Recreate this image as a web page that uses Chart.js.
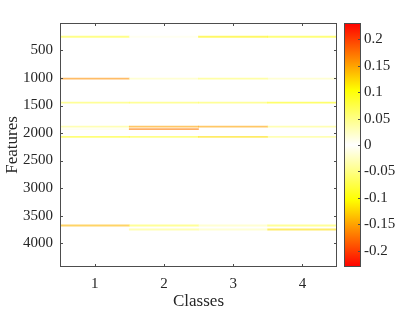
<!DOCTYPE html>
<html>
<head>
<meta charset="utf-8">
<script src="https://cdn.jsdelivr.net/npm/chart.js@4"></script>
<style>
  body { margin: 0; background: #fff; width: 415px; height: 312px; overflow: hidden; position: relative; }
  #main { position: absolute; left: 0; top: 0; }
  #cbar { position: absolute; left: 338px; top: 0; }
</style>
</head>
<body>
<canvas id="main" width="340" height="312"></canvas>
<canvas id="cbar" width="77" height="312"></canvas>
<script>
// classes on x, features on y
const classes = ['1', '2', '3', '4'];
const nFeatures = 4434;
const featureTicks = [500, 1000, 1500, 2000, 2500, 3000, 3500, 4000];

// the feature rows that carry non-zero weights, and their value per class
const rowFeatures = [240, 1000, 1436, 1872, 1918, 2059, 3670, 3743];
const rowValues = [
    [0.08, 0.01, 0.11, 0.09],
    [-0.16, 0.03, 0.06, 0.03],
    [0.07, 0.07, 0.07, 0.10],
    [-0.05, 0.15, 0.15, 0.05],
    [0.01, -0.17, 0, 0],
    [0.09, 0.08, -0.12, 0.05],
    [-0.14, 0.07, 0.03, 0.07],
    [0, 0.05, 0.03, -0.12]
];

// colour bar
const colorTicks = [0.2, 0.15, 0.1, 0.05, 0, -0.05, -0.1, -0.15, -0.2];
const cLim = 0.231;

const serif = 'Liberation Serif';
const textColor = '#262626';

// white at 0, yellow at ~0.1, red at the limits (same on both sides)
function heatColor(v, alpha = 1) {
    if (v === null) return 'rgba(0,0,0,0)';
    let t = Math.min(Math.abs(v) / cLim, 1);
    if (t <= 0.45) {
        const b = Math.round(255 * (1 - t / 0.45));
        return `rgba(255,255,${b},${alpha})`;
    }
    const g = Math.round(255 * (1 - (t - 0.45) / 0.55));
    return `rgba(255,${g},0,${alpha})`;
}

// box and inward tick marks, MATLAB style
const boxPlugin = {
    id: 'box',
    afterDraw(chart) {
        const { ctx, chartArea: a, scales } = chart;
        ctx.save();
        ctx.strokeStyle = '#4d4d4d';
        ctx.lineWidth = 1;
        ctx.strokeRect(a.left + 0.5, a.top + 0.5, a.right - a.left - 1, a.bottom - a.top - 1);
        ctx.beginPath();
        const tl = 3;
        if (chart.canvas.id === 'main') {
            featureTicks.forEach(v => {
                const y = Math.round(scales.y.getPixelForValue(v)) + 0.5;
                ctx.moveTo(a.left, y); ctx.lineTo(a.left + tl, y);
                ctx.moveTo(a.right, y); ctx.lineTo(a.right - tl, y);
            });
            classes.forEach((c, i) => {
                const x = Math.round(scales.x.getPixelForValue(i)) + 0.5;
                ctx.moveTo(x, a.top); ctx.lineTo(x, a.top + tl);
                ctx.moveTo(x, a.bottom); ctx.lineTo(x, a.bottom - tl);
            });
        } else {
            colorTicks.forEach(v => {
                const y = Math.round(scales.y.getPixelForValue(v)) + 0.5;
                ctx.moveTo(a.right, y); ctx.lineTo(a.right - tl, y);
            });
        }
        ctx.stroke();
        ctx.restore();
    }
};

// rows are thinner than a pixel, so they show up lighter than the bar colours
const datasets = rowFeatures.map((f, i) => ({
    label: 'feature ' + f,
    data: rowValues[i].map(v => v === 0 ? null : [f - 0.5, f + 0.5]),
    backgroundColor: rowValues[i].map(v => heatColor(v === 0 ? null : v, 0.6)),
    barPercentage: 1,
    categoryPercentage: 1,
    minBarLength: 1.2,
    grouped: false
}));

new Chart(document.getElementById('main').getContext('2d'), {
    type: 'bar',
    data: { labels: classes, datasets: datasets },
    options: {
        responsive: false,
        animation: false,
        devicePixelRatio: 1,
        layout: { padding: { top: 23, right: 3, left: 0, bottom: 0 } },
        plugins: { legend: { display: false }, tooltip: { enabled: false } },
        scales: {
            x: {
                type: 'category',
                offset: true,
                grid: { display: false, drawTicks: false },
                border: { display: false },
                ticks: { color: textColor, font: { family: serif, size: 15 }, padding: 8 },
                title: { display: true, text: 'Classes', color: textColor, font: { family: serif, size: 17 }, padding: { top: 0, bottom: 0 } },
                afterFit: s => { s.height = 45; }
            },
            y: {
                type: 'linear',
                reverse: true,
                min: 0.5,
                max: nFeatures + 0.5,
                grid: { display: false, drawTicks: false },
                border: { display: false },
                afterBuildTicks: s => { s.ticks = featureTicks.map(v => ({ value: v })); },
                ticks: { color: textColor, font: { family: serif, size: 15 }, padding: 7, callback: v => String(v) },
                title: { display: true, text: 'Features', color: textColor, font: { family: serif, size: 17 }, padding: { top: 2, bottom: 0 } },
                afterFit: s => { s.width = 60; }
            }
        }
    },
    plugins: [boxPlugin]
});

new Chart(document.getElementById('cbar').getContext('2d'), {
    type: 'bar',
    data: {
        labels: [''],
        datasets: [{
            data: [[-cLim, cLim]],
            barPercentage: 1,
            categoryPercentage: 1,
            backgroundColor: ctx => {
                const chart = ctx.chart;
                if (!chart.chartArea) return null;
                const y = chart.scales.y;
                const top = y.getPixelForValue(cLim);
                const bottom = y.getPixelForValue(-cLim);
                const g = chart.ctx.createLinearGradient(0, top, 0, bottom);
                const steps = 40;
                for (let k = 0; k <= steps; k++) {
                    const v = cLim - (2 * cLim) * k / steps;
                    g.addColorStop(k / steps, heatColor(v));
                }
                return g;
            }
        }]
    },
    options: {
        responsive: false,
        animation: false,
        devicePixelRatio: 1,
        layout: { padding: { top: 23, left: 6, bottom: 45, right: 0 } },
        plugins: { legend: { display: false }, tooltip: { enabled: false } },
        scales: {
            x: { display: false },
            y: {
                position: 'right',
                min: -cLim,
                max: cLim,
                grid: { display: false, drawTicks: false },
                border: { display: false },
                afterBuildTicks: s => { s.ticks = colorTicks.map(v => ({ value: v })); },
                ticks: { color: textColor, font: { family: serif, size: 15 }, padding: 3, callback: v => String(+v.toFixed(2)) },
                afterFit: s => { s.width = 54; }
            }
        }
    },
    plugins: [boxPlugin]
});
</script>
</body>
</html>
